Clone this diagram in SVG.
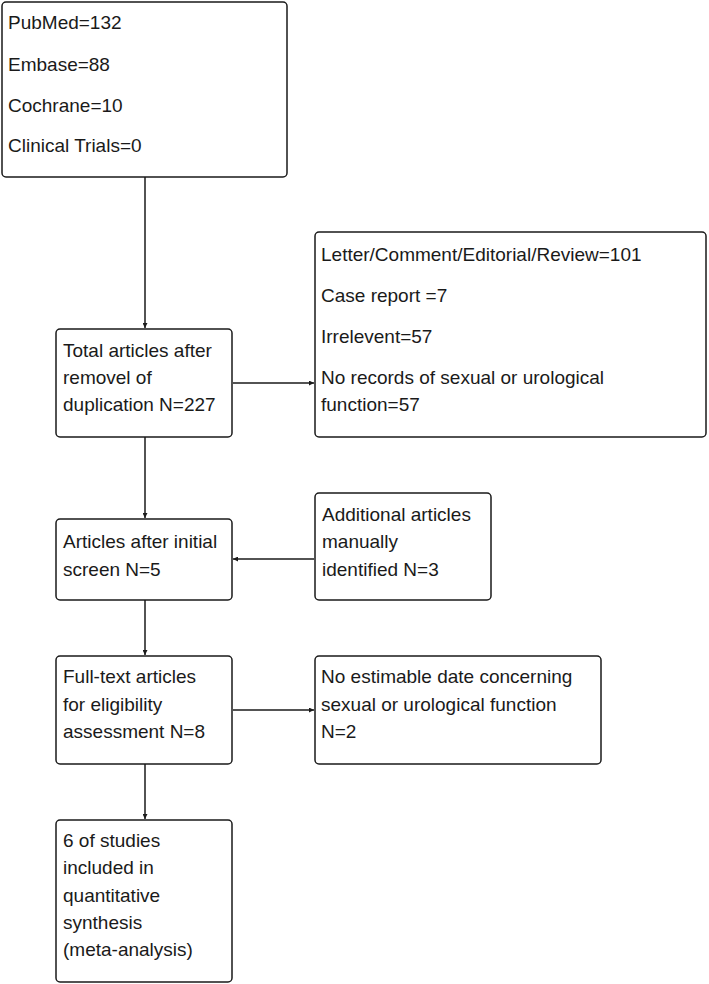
<svg xmlns="http://www.w3.org/2000/svg" width="709" height="984" viewBox="0 0 709 984">
<style>
  .box { fill: #ffffff; stroke: #1a1a1a; stroke-width: 1.5; }
  .t { font-family: "Liberation Sans", Arial, sans-serif; font-size: 19px; fill: #1a1a1a; }
  .c { fill: none; stroke: #1a1a1a; stroke-width: 1.5; }
</style>
<defs>
  <marker id="ah" viewBox="0 0 10 10" refX="10" refY="5" markerWidth="8" markerHeight="5" markerUnits="userSpaceOnUse" orient="auto">
    <path d="M0,0 L10,5 L0,10 Z" fill="#1a1a1a"/>
  </marker>
</defs>
<rect width="709" height="984" fill="#ffffff"/>
<g id="connectors">
  <line class="c" x1="145" y1="177" x2="145" y2="328" marker-end="url(#ah)"/>
  <line class="c" x1="233" y1="383" x2="314" y2="383" marker-end="url(#ah)"/>
  <line class="c" x1="145" y1="437" x2="145" y2="518" marker-end="url(#ah)"/>
  <line class="c" x1="314" y1="559" x2="233" y2="559" marker-end="url(#ah)"/>
  <line class="c" x1="145" y1="600" x2="145" y2="655" marker-end="url(#ah)"/>
  <line class="c" x1="233" y1="710" x2="314" y2="710" marker-end="url(#ah)"/>
  <line class="c" x1="145" y1="764" x2="145" y2="819" marker-end="url(#ah)"/>
</g>
<g id="sources">
  <rect class="box" x="2" y="2" width="285" height="175" rx="4"/>
  <text class="t" x="8" y="29">PubMed=132</text>
  <text class="t" x="8" y="71">Embase=88</text>
  <text class="t" x="8" y="112">Cochrane=10</text>
  <text class="t" x="8" y="152">Clinical Trials=0</text>
</g>
<g id="total">
  <rect class="box" x="56" y="329" width="176" height="108" rx="4"/>
  <text class="t" x="63" y="357">Total articles after</text>
  <text class="t" x="63" y="384">removel of</text>
  <text class="t" x="63" y="411">duplication N=227</text>
</g>
<g id="excluded1">
  <rect class="box" x="315" y="232" width="391" height="205" rx="4"/>
  <text class="t" x="321" y="261">Letter/Comment/Editorial/Review=101</text>
  <text class="t" x="321" y="302">Case report =7</text>
  <text class="t" x="321" y="343">Irrelevent=57</text>
  <text class="t" x="321" y="384">No records of sexual or urological</text>
  <text class="t" x="321" y="411">function=57</text>
</g>
<g id="initial">
  <rect class="box" x="56" y="519" width="176" height="81" rx="4"/>
  <text class="t" x="63" y="548">Articles after initial</text>
  <text class="t" x="63" y="576">screen N=5</text>
</g>
<g id="additional">
  <rect class="box" x="315" y="493" width="176" height="107" rx="4"/>
  <text class="t" x="322" y="521">Additional articles</text>
  <text class="t" x="322" y="548">manually</text>
  <text class="t" x="322" y="576">identified N=3</text>
</g>
<g id="fulltext">
  <rect class="box" x="56" y="656" width="176" height="108" rx="4"/>
  <text class="t" x="63" y="683">Full-text articles</text>
  <text class="t" x="63" y="711">for eligibility</text>
  <text class="t" x="63" y="738">assessment N=8</text>
</g>
<g id="excluded2">
  <rect class="box" x="315" y="656" width="286" height="108" rx="4"/>
  <text class="t" x="321" y="683">No estimable date concerning</text>
  <text class="t" x="321" y="711">sexual or urological function</text>
  <text class="t" x="321" y="738">N=2</text>
</g>
<g id="included">
  <rect class="box" x="56" y="820" width="176" height="162" rx="4"/>
  <text class="t" x="63" y="847">6 of studies</text>
  <text class="t" x="63" y="874">included in</text>
  <text class="t" x="63" y="902">quantitative</text>
  <text class="t" x="63" y="929">synthesis</text>
  <text class="t" x="63" y="956">(meta-analysis)</text>
</g>
</svg>
